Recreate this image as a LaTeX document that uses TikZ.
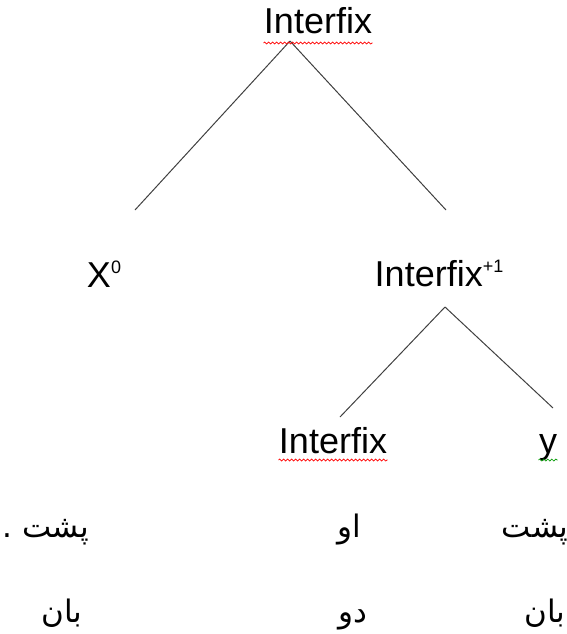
\documentclass[tikz,border=0pt]{standalone}
\usepackage{fontspec}
\setmainfont{Liberation Sans}
\newfontfamily\fafont[Script=Arabic]{DejaVu Sans}
\TeXXeTstate=1
\usetikzlibrary{decorations.pathmorphing}

\begin{document}
\begin{tikzpicture}[x=1pt,y=-1pt,line width=1pt]
\tikzstyle{w}=[inner sep=0pt,anchor=base,font=\fontsize{36}{42}\selectfont]
\tikzstyle{fa}=[inner sep=0pt,anchor=base,font=\fafont\fontsize{31}{36}\selectfont]
\tikzstyle{spell}=[line width=0.7pt,decorate,decoration={snake,amplitude=1pt,segment length=4pt}]
\useasboundingbox (0,0) rectangle (567,634);
% tree labels
\node[w]	(I0)	at (318,34)		{Interfix};
\node[w]	(X0)	at (104,287)	{X\raisebox{14pt}{\fontsize{18}{20}\selectfont 0}};
\node[w]	(I1)	at (439,286)	{Interfix\raisebox{14pt}{\fontsize{18}{20}\selectfont +1}};
\node[w]	(I2)	at (333,453)	{Interfix};
\node[w]	(Y)		at (548,453)	{y};
% persian words
\node[fa]	(P1)	at (46,537)		{\beginR پشت .\endR};
\node[fa]	(P2)	at (349,537)	{\beginR او\endR};
\node[fa]	(P3)	at (535,537)	{\beginR پشت\endR};
\node[fa]	(Q1)	at (62,622)		{\beginR بان\endR};
\node[fa]	(Q2)	at (353,622)	{\beginR دو\endR};
\node[fa]	(Q3)	at (545,622)	{\beginR بان\endR};
% branch ends
\coordinate (a0) at (290,41);
\coordinate (a1) at (135,210);
\coordinate (a2) at (446,210);
\coordinate (b0) at (445,307);
\coordinate (b1) at (340,417);
\coordinate (b2) at (553,408);
\path[draw=black!75]	(a0)	edge	(a1)
	 (a0)	edge	(a2)
	 (b0)	edge	(b1)
	 (b0)	edge	(b2);
% spelling marks
\draw[spell,red]	(I0.west |- 0,43)	-- (I0.east |- 0,43);
\draw[spell,red]	(I2.west |- 0,460)	-- (I2.east |- 0,460);
\draw[spell,green!60!black]	(Y.west |- 0,460)	-- (Y.east |- 0,460);
\end{tikzpicture}
\end{document}
